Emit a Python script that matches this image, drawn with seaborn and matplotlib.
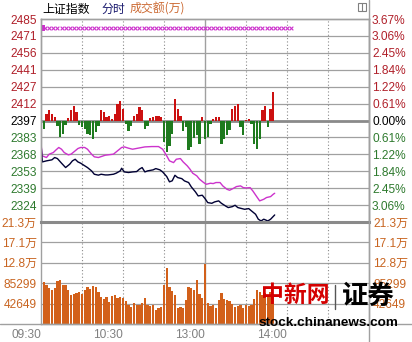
import numpy as np
import pandas as pd
import matplotlib
matplotlib.use("Agg")
import matplotlib.pyplot as plt
import seaborn as sns
from matplotlib.lines import Line2D
from matplotlib.patches import Rectangle

# ---------------- data ----------------
base_price = 2397.3          # previous close
price_step = 14.67
price_labels = ["2485", "2471", "2456", "2441", "2427", "2412", "2397",
                "2383", "2368", "2353", "2339", "2324"]
pct_labels = ["3.67%", "3.06%", "2.45%", "1.84%", "1.22%", "0.61%", "0.00%",
              "0.61%", "1.22%", "1.84%", "2.45%", "3.06%"]
vol_tick_values = [42649, 85299, 127947, 170596, 213245]
vol_tick_labels = ["42649", "85299", "12.8万", "17.1万", "21.3万"]
time_ticks = [0, 60, 120, 180]
time_labels = ["09:30", "10:30", "13:00", "14:00"]

# index (black line): minutes since 09:30 (trading minutes) and value
idx_min = [0, 1, 4, 8, 10, 12, 15, 18, 21, 23, 25, 27, 29, 32, 34, 37, 39, 42, 44, 47,
           49, 53, 55, 58, 59, 61, 64, 67, 70, 72, 74, 76, 78, 82, 84, 87, 89, 92, 94, 96,
           98, 100, 103, 105, 108, 110, 113, 115, 118, 120, 122, 125, 127, 130, 132, 135,
           137, 140, 142, 144, 147, 149, 152, 154, 157, 159, 161, 163, 166, 168, 171]
idx_val = [2376.8, 2361.4, 2362.3, 2363.2, 2365.2, 2364.3, 2360.3, 2356.5, 2359.4, 2362.3,
           2363.7, 2361.4, 2360.3, 2358.0, 2356.5, 2353.6, 2350.7, 2349.9, 2350.7, 2350.1,
           2350.1, 2350.7, 2351.6, 2353.6, 2355.9, 2352.7, 2352.2, 2352.7, 2353.0, 2355.1,
           2356.5, 2352.7, 2353.6, 2354.5, 2355.6, 2354.5, 2352.7, 2348.7, 2344.1, 2345.0,
           2349.8, 2347.8, 2346.9, 2344.9, 2343.5, 2339.7, 2335.4, 2331.9, 2332.5, 2329.6,
           2326.1, 2325.5, 2326.7, 2327.6, 2325.5, 2323.2, 2321.8, 2322.6, 2323.8, 2321.8,
           2320.9, 2320.3, 2320.9, 2318.9, 2316.0, 2311.7, 2310.2, 2311.7, 2310.2, 2311.7,
           2315.4]

# average line (magenta)
avg_min = [0, 1, 4, 6, 9, 11, 13, 15, 17, 20, 22, 25, 27, 29, 32, 34, 37, 39, 42, 44,
           47, 49, 53, 56, 59, 61, 64, 67, 71, 76, 81, 86, 89, 92, 94, 97, 99, 102, 104, 107,
           109, 111, 114, 116, 119, 121, 124, 126, 128, 131, 133, 136, 138, 141, 143, 146,
           148, 150, 153, 155, 158, 160, 163, 165, 168, 170, 171]
avg_val = [2376.8, 2366.6, 2365.2, 2368.1, 2369.5, 2371.8, 2373.9, 2372.4, 2369.5, 2367.5,
           2368.1, 2371.0, 2373.0, 2373.9, 2373.9, 2372.4, 2368.1, 2365.8, 2365.2, 2366.0,
           2367.2, 2367.5, 2368.1, 2371.0, 2373.9, 2374.4, 2373.3, 2372.4, 2373.3, 2374.4,
           2374.7, 2374.7, 2372.4, 2366.6, 2362.3, 2360.8, 2363.7, 2364.3, 2361.4, 2358.0,
           2355.1, 2351.6, 2349.3, 2346.4, 2343.5, 2342.0, 2342.9, 2342.6, 2343.5, 2343.5,
           2340.6, 2337.7, 2336.8, 2338.6, 2340.0, 2340.6, 2339.1, 2338.8, 2339.1, 2336.2,
           2331.0, 2327.6, 2329.0, 2330.5, 2331.3, 2333.4, 2334.2]

# bar series (every 2 minutes)
bar_min = list(range(0, 172, 2))
strength = [-17.4, -7.2, 5.8, 9.3, 5.8, 2.9, -5.0, -14.5, -12.0, -4.3,
            2.0, 8.7, 13.0, 7.2, -4.3, -5.8, -7.2, -11.6, -13.0, -15.9,
            -10.0, -5.0, 8.7, 7.0, 2.9, 3.5, 1.0, 6.0, 14.5, 16.5,
            10.0, -3.0, -8.7, -5.0, 3.5, 6.0, 12.0, 9.0, -7.2, -5.0,
            2.0, 3.0, 3.5, 4.0, 2.9, -18.8, -27.5, -21.7, -12.0, 18.8,
            10.0, 4.0, -8.7, -6.0, -26.0, -23.0, -15.0, -13.0, -20.0, 2.9,
            -15.9, -14.0, -3.0, 1.5, 2.9, 2.9, -20.0, -16.0, -13.0, -8.0,
            10.1, 13.0, 14.5, -6.0, -13.0, 0.5, 1.5, -3.0, -20.0, -24.6,
            -16.0, 8.7, 13.0, -5.8, 10.0, 24.6]
volume = [194000, 88500, 81500, 76000, 71000, 74600, 90000, 92000, 82000, 81500,
          72000, 60600, 62000, 64100, 66000, 62000, 71100, 78000, 74000, 80100,
          78000, 67600, 57100, 53000, 57000, 47000, 58000, 60600, 54000, 57000,
          53700, 48000, 39700, 36200, 43200, 39700, 39700, 43200, 55000, 39700,
          38000, 39700, 29300, 33000, 36200, 81500, 116400, 78000, 70000, 60600,
          34000, 36200, 32800, 50200, 78000, 74600, 72000, 92000, 62000, 55000,
          124700, 43200, 38000, 39700, 34000, 50000, 64100, 53000, 50200, 48000,
          41100, 36200, 38000, 40000, 32800, 40000, 38000, 40000, 52000, 71000,
          66000, 60000, 64000, 58000, 67000, 62000]

marker_level = 2477.3
marker_min = list(range(3, 184, 3))

# ---------------- style ----------------
sns.set_theme(style="white")
plt.rcParams["font.family"] = ["Liberation Sans", "Noto Sans CJK SC", "DejaVu Sans"]
CJK = ["Noto Sans CJK SC", "DejaVu Sans"]

RED = "#CC1010"
GREEN = "#1E7A1E"
ORANGE = "#D2601A"
MAG = "#CC33CC"
NAVY = "#000033"
GRID = "#A0A0A0"
RED_T = "#B0202A"
GREEN_T = "#2E7A2E"
ORANGE_T = "#C86420"
FS = 8.6

W, H = 412, 342
fig = plt.figure(figsize=(W / 100, H / 100), dpi=100)
fig.patch.set_facecolor("white")


def fx(px):
    return px / W


def fy(py):
    return 1 - py / H


L, R, T, MID, B = 41, 369, 19, 222, 324
ax = fig.add_axes([fx(L), fy(MID), (R - L) / W, (MID - T) / H])
axp = ax.twinx()
axv = fig.add_axes([fx(L), fy(B), (R - L) / W, (B - MID) / H])

# strength bars (offset from previous close)
df_s = pd.DataFrame({"m": bar_min, "v": strength,
                     "dir": ["up" if s >= 0 else "down" for s in strength]})
sns.barplot(data=df_s, x="m", y="v", hue="dir", palette={"up": RED, "down": GREEN},
            native_scale=True, dodge=False, width=0.85, errorbar=None, legend=False,
            saturation=1, linewidth=0, orient="x", ax=ax)

# price lines
sns.lineplot(x=avg_min, y=avg_val, color=MAG, linewidth=1.0, ax=axp)
sns.lineplot(x=idx_min, y=idx_val, color=NAVY, linewidth=1.0, ax=axp)
sns.scatterplot(x=marker_min, y=[marker_level] * len(marker_min), marker="x",
                color=MAG, s=7, linewidth=0.8, ax=axp)
sns.scatterplot(x=[1], y=[marker_level], marker="s", color=MAG, s=14,
                linewidth=0, ax=axp)

# volume bars
sns.barplot(x=bar_min, y=volume, native_scale=True, color=ORANGE, width=0.85,
            errorbar=None, saturation=1, linewidth=0, orient="x", ax=axv)

# ---------------- axes ----------------
ax.set_ylim(-6 * price_step, 6 * price_step)
axp.set_ylim(base_price - 6 * price_step, base_price + 6 * price_step)
axv.set_ylim(0, vol_tick_values[-1])
for a in (ax, axp, axv):
    a.set_xlim(0, 240)
    a.set_xlabel("")
    a.set_ylabel("")

ks = list(range(6, -6, -1))
ax.set_xticks([])
ax.set_yticks([k * price_step for k in ks])
ax.set_yticklabels(price_labels)
axp.set_yticks([base_price + k * price_step for k in ks])
axp.set_yticklabels(pct_labels)
for lab_l, lab_r, k in zip(ax.get_yticklabels(), axp.get_yticklabels(), ks):
    c = RED_T if k > 0 else ("black" if k == 0 else GREEN_T)
    lab_l.set_color(c)
    lab_r.set_color(c)
ax.tick_params(axis="y", length=0, pad=3, labelsize=FS)
axp.tick_params(axis="y", length=0, pad=2.2, labelsize=FS)

axv.set_yticks(vol_tick_values)
axv.set_yticklabels(vol_tick_labels)
axv.tick_params(axis="y", length=0, pad=3, labelsize=FS, labelcolor=ORANGE_T,
                labelright=True, right=False)
axv.set_xticks(time_ticks)
axv.set_xticklabels(time_labels)
axv.tick_params(axis="x", length=0, pad=3.5, labelsize=FS, labelcolor="#808080")
for lab in axv.get_xticklabels():
    lab.set_horizontalalignment("right")

# grid lines
for k in range(-5, 6):
    if k == 0:
        ax.axhline(0, color="#8A8A8A", lw=2.0, zorder=0.5)
    else:
        ax.axhline(k * price_step, color=GRID, lw=0.9, zorder=0.5)
for v in vol_tick_values[:-1]:
    axv.axhline(v, color=GRID, lw=0.9, zorder=0.5)
for a in (ax, axv):
    for m in (30, 60, 90, 150, 180, 210):
        a.axvline(m, color="#8A8A8A", lw=0.8, dashes=(1, 2), zorder=0.5)
    a.axvline(120, color=GRID, lw=1.0, zorder=0.5)

for a in (ax, axp, axv):
    for s in a.spines.values():
        s.set_color(GRID)
        s.set_linewidth(1.0)
axv.spines["top"].set_linewidth(2.2)
axv.spines["top"].set_color("#8A8A8A")
ax.spines["bottom"].set_visible(False)
axp.spines["bottom"].set_visible(False)

# frame lines extending outside the plot
fig.add_artist(Line2D([0, 1], [fy(B), fy(B)], color=GRID, lw=1.0))
fig.add_artist(Line2D([fx(R), fx(R)], [0, 1], color=GRID, lw=1.0))

# ---------------- texts ----------------
fig.text(fx(42), fy(9), "上证指数", color="black", fontsize=FS, family=CJK,
         ha="left", va="center")
fig.text(fx(102), fy(9), "分时", color="#1A1A6E", fontsize=FS, family=CJK,
         ha="left", va="center")
fig.text(fx(130), fy(9), "成交额(万)", color="#CC6A33", fontsize=FS, family=CJK,
         ha="left", va="center")
fig.add_artist(Rectangle((fx(358), fy(11)), 8 / W, 8 / H, fill=False,
                         edgecolor="#808080", lw=0.8))
fig.add_artist(Line2D([fx(362), fx(362)], [fy(11), fy(3)], color="#808080", lw=0.8))

# watermark
fig.text(fx(261), fy(296), "中新网", color="#D40000", fontsize=16.5,
         fontweight="bold", family=CJK, ha="left", va="center")
fig.add_artist(Line2D([fx(335), fx(335)], [fy(285), fy(309)], color="#555555", lw=1))
fig.text(fx(342), fy(296), "证券", color="black", fontsize=19,
         fontweight="heavy", family=CJK, ha="left", va="center")
fig.text(fx(259), fy(323.5), "stock.chinanews.com", color="black", fontsize=9.7,
         fontweight="bold", family=["Liberation Sans", "DejaVu Sans"],
         ha="left", va="center")

fig.savefig("out.png", dpi=100, facecolor="white")
